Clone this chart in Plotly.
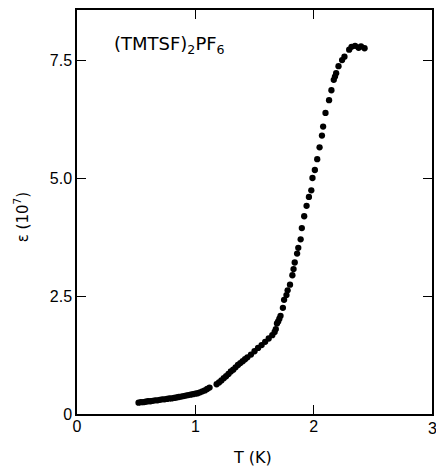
import plotly.graph_objects as go

# Temperature T (K)
T = [0.52,0.54,0.56,0.58,0.60,0.62,0.64,0.66,0.68,0.70,0.72,0.74,0.76,0.78,0.80,
     0.82,0.84,0.86,0.88,0.90,0.92,0.94,0.96,0.98,1.00,1.02,1.04,1.06,1.08,1.10,1.12,
     1.18,1.20,1.22,1.24,1.26,1.28,1.30,1.32,1.34,1.36,1.38,1.40,1.42,1.44,1.47,
     1.50,1.53,1.56,1.59,1.62,1.65,1.67,1.68,1.69,1.70,1.71,1.72,1.74,1.75,1.77,
     1.78,1.80,1.82,1.83,1.84,1.86,1.87,1.89,1.90,1.92,1.94,1.96,1.98,1.99,2.01,
     2.03,2.05,2.07,2.08,2.10,2.13,2.15,2.17,2.18,2.19,2.21,2.24,2.26,2.30,2.32,
     2.35,2.38,2.40,2.43]
# Dielectric constant epsilon (10^7)
EPS = [0.24,0.25,0.25,0.26,0.27,0.27,0.28,0.29,0.29,0.30,0.31,0.31,0.32,0.33,0.33,
       0.34,0.35,0.36,0.37,0.38,0.39,0.40,0.41,0.42,0.43,0.44,0.46,0.48,0.50,0.53,0.56,
       0.63,0.67,0.71,0.76,0.80,0.85,0.90,0.94,0.99,1.04,1.08,1.12,1.16,1.20,1.26,
       1.33,1.40,1.46,1.53,1.60,1.67,1.74,1.80,1.92,1.96,2.02,2.08,2.25,2.42,2.52,
       2.62,2.74,2.94,3.07,3.21,3.40,3.52,3.70,3.94,4.19,4.41,4.60,4.74,5.00,5.17,
       5.40,5.65,5.90,6.09,6.38,6.65,6.86,7.08,7.15,7.22,7.37,7.50,7.57,7.72,7.78,
       7.80,7.76,7.79,7.75]

X_TICKS = [0, 1, 2]
X_TICKTEXT = ["0", "1", "2"]
X_LAST_TICK = 3
X_LAST_TEXT = "3"
Y_TICKS = [0, 2.5, 5.0, 7.5]
Y_TICKTEXT = ["0", "2.5", "5.0", "7.5"]

FONT = "Liberation Sans, Arial, sans-serif"
FONT_WIDE = "DejaVu Sans, Liberation Sans, sans-serif"

fig = go.Figure()
fig.add_trace(go.Scatter(
    x=T, y=EPS, mode="markers",
    marker=dict(color="black", size=6.3, line=dict(width=0)),
    showlegend=False,
))

axis_common = dict(
    showline=True, linecolor="black", linewidth=1.5, mirror="ticks",
    ticks="inside", ticklen=9, tickwidth=1.3, tickcolor="black",
    showgrid=False, zeroline=False,
    tickfont=dict(family=FONT, size=16, color="black"),
)

fig.update_xaxes(range=[0, 3], tickvals=X_TICKS + [X_LAST_TICK],
                 ticktext=X_TICKTEXT + [""], ticklabelstandoff=-3, **axis_common)
fig.update_yaxes(range=[0, 8.56], tickvals=Y_TICKS, ticktext=Y_TICKTEXT, **axis_common)

# last x tick label, clipped by the figure edge as in the reference
fig.add_annotation(
    text=X_LAST_TEXT, xref="x", yref="paper", x=X_LAST_TICK, y=-(428 - 414) / 404,
    xanchor="center", yanchor="middle", showarrow=False,
    font=dict(family=FONT, size=16, color="black"),
)
fig.add_annotation(
    text="(TMTSF)<sub>2</sub>PF<sub>6</sub>", xref="paper", yref="paper",
    x=(112 - 77) / 357, y=(414 - 45) / 404, xanchor="left", yanchor="middle", showarrow=False,
    font=dict(family=FONT_WIDE, size=18, color="black"),
)
fig.add_annotation(
    text="T (K)", xref="paper", yref="paper",
    x=(253 - 77) / 357, y=-(457 - 414) / 404, xanchor="center", yanchor="middle",
    showarrow=False, font=dict(family=FONT_WIDE, size=16, color="black"),
)
fig.add_annotation(
    text="\u03b5 (10<sup>7</sup>)", xref="paper", yref="paper",
    x=(21 - 77) / 357, y=(414 - 217) / 404, xanchor="center", yanchor="middle",
    textangle=-90, showarrow=False, font=dict(family=FONT_WIDE, size=15, color="black"),
)

fig.update_layout(
    width=436, height=468,
    margin=dict(l=77, r=2, t=10, b=54),
    plot_bgcolor="white", paper_bgcolor="white",
)

fig.write_html("out.html")
